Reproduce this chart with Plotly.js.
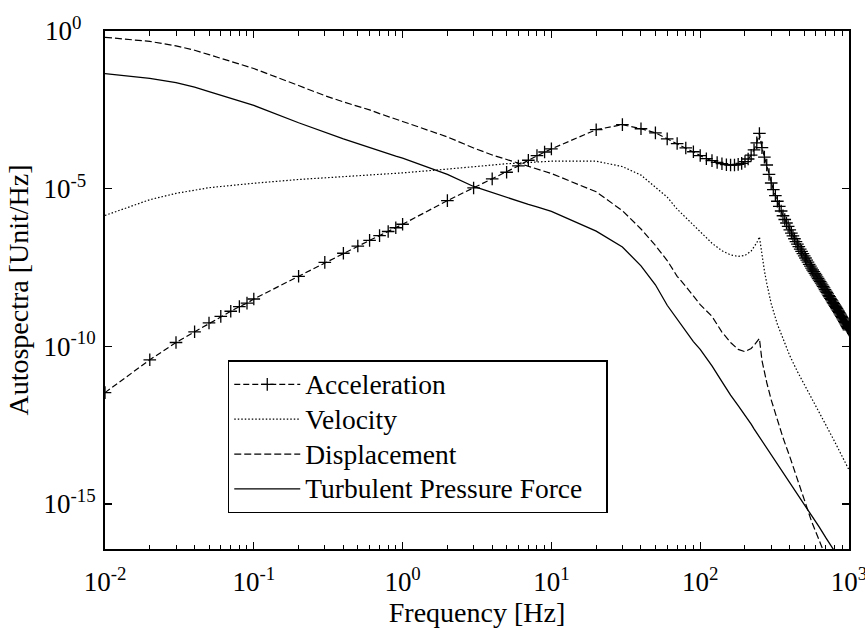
<!DOCTYPE html>
<html><head><meta charset="utf-8">
<script src="https://cdn.plot.ly/plotly-3.0.1.min.js"></script>
<style>html,body{margin:0;padding:0;background:#fff}</style>
</head><body>
<div id="chart" style="width:865px;height:630px"></div>
<script>
// ---- data ----
const freqAccel = [0.01,0.02,0.03,0.04,0.05,0.06,0.07,0.08,0.09,0.1,
  0.2,0.3,0.4,0.5,0.6,0.7,0.8,0.9,1,
  2,3,4,5,6,7,8,9,10,
  20,30,40,50,60,70,80,90,100,
  110,120,130,140,150,160,170,180,190,200,
  210,220,230,240,250,260,270,280,290,300,
  310,320,330,340,350,360,370,380,390,400,
  410,420,430,440,450,460,470,480,490,500,
  510,520,530,540,550,560,570,580,590,600,
  610,620,630,640,650,660,670,680,690,700,
  710,720,730,740,750,760,770,780,790,800,
  810,820,830,840,850,860,870,880,890,900,
  910,920,930,940,950,960,970,980,990,1000];
const acceleration = [3.39e-12,3.72e-11,1.32e-10,2.88e-10,5.50e-10,8.91e-10,1.29e-9,1.82e-9,2.34e-9,3.16e-9,
  1.66e-8,4.57e-8,8.91e-8,1.51e-7,2.29e-7,3.24e-7,4.37e-7,5.75e-7,7.41e-7,
  4.17e-6,1.05e-5,2.04e-5,3.31e-5,5.25e-5,7.94e-5,1.12e-4,1.45e-4,1.82e-4,
  7.41e-4,1.07e-3,7.94e-4,5.89e-4,3.80e-4,2.69e-4,1.95e-4,1.48e-4,1.12e-4,
  8.91e-5,7.76e-5,6.76e-5,6.17e-5,5.75e-5,5.62e-5,5.62e-5,5.89e-5,6.31e-5,7.24e-5,
  8.71e-5,1.15e-4,1.70e-4,2.82e-4,5.62e-4,2.00e-4,1.00e-4,5.62e-5,2.82e-5,1.51e-5,
  9.33e-6,6.03e-6,3.98e-6,2.75e-6,1.95e-6,1.38e-6,1.05e-6,8.13e-7,6.31e-7,4.90e-7,
  3.89e-7,3.16e-7,2.57e-7,2.09e-7,1.74e-7,1.45e-7,1.20e-7,1.02e-7,8.71e-8,7.41e-8,
  6.31e-8,5.37e-8,4.68e-8,3.98e-8,3.47e-8,3.02e-8,2.63e-8,2.34e-8,2.04e-8,1.82e-8,
  1.58e-8,1.41e-8,1.26e-8,1.12e-8,1.00e-8,8.91e-9,7.94e-9,7.08e-9,6.31e-9,5.62e-9,
  5.13e-9,4.57e-9,4.07e-9,3.72e-9,3.31e-9,3.02e-9,2.75e-9,2.45e-9,2.24e-9,2.04e-9,
  1.86e-9,1.70e-9,1.55e-9,1.41e-9,1.29e-9,1.17e-9,1.07e-9,9.77e-10,8.91e-10,8.13e-10,
  7.41e-10,6.76e-10,6.17e-10,5.62e-10,5.13e-10,4.68e-10,4.27e-10,3.89e-10,3.63e-10,3.31e-10];

const freqLine = [0.01,0.02,0.03,0.04,0.05,0.06,0.07,0.08,0.09,0.1,
  0.2,0.3,0.4,0.5,0.6,0.7,0.8,0.9,1,
  2,3,4,5,6,7,8,9,10,
  20,30,40,50,60,70,80,90,100,
  120,140,160,180,200,220,230,240,250,260,270,280,300,330,360,400,450,500,560,630,700,800,900,1000];
const velocity = [1.41e-6,4.47e-6,7.08e-6,9.12e-6,1.07e-5,1.17e-5,1.26e-5,1.35e-5,1.41e-5,1.48e-5,
  1.95e-5,2.19e-5,2.40e-5,2.51e-5,2.63e-5,2.75e-5,2.88e-5,3.02e-5,3.16e-5,
  4.17e-5,5.01e-5,5.62e-5,6.17e-5,6.46e-5,6.76e-5,7.08e-5,7.24e-5,7.41e-5,
  7.41e-5,5.01e-5,2.69e-5,1.12e-5,5.37e-6,2.24e-6,1.20e-6,6.92e-7,4.17e-7,
  1.86e-7,1.07e-7,7.94e-8,7.08e-8,7.59e-8,1.05e-7,1.38e-7,1.91e-7,2.95e-7,7.08e-8,2.51e-8,1.00e-8,
  2.24e-9,5.01e-10,1.66e-10,5.01e-11,1.58e-11,6.31e-12,2.40e-12,8.32e-13,3.16e-13,9.55e-14,3.31e-14,1.20e-14];
const displacement = [6.31e-1,4.68e-1,3.39e-1,2.45e-1,1.78e-1,1.38e-1,1.10e-1,9.12e-2,7.59e-2,6.46e-2,
  1.86e-2,8.91e-3,5.62e-3,4.17e-3,3.16e-3,2.40e-3,1.91e-3,1.58e-3,1.35e-3,
  4.37e-4,1.95e-4,1.17e-4,8.32e-5,6.31e-5,5.13e-5,4.27e-5,3.55e-5,3.02e-5,
  7.94e-6,2.00e-6,5.25e-7,1.58e-7,5.25e-8,1.66e-8,7.94e-9,3.80e-9,2.09e-9,
  8.91e-10,2.82e-10,1.32e-10,7.94e-11,6.76e-11,8.51e-11,1.07e-10,1.38e-10,1.78e-10,3.55e-11,1.41e-11,7.08e-12,
  2.00e-12,4.47e-13,1.26e-13,3.16e-14,6.31e-15,1.41e-15,2.82e-16,7.08e-17,2.00e-17,null,null,null];
const turbulentForce = [4.47e-2,3.16e-2,2.29e-2,1.66e-2,1.20e-2,9.33e-3,7.41e-3,6.17e-3,5.13e-3,4.37e-3,
  1.23e-3,6.03e-4,3.80e-4,2.69e-4,2.00e-4,1.58e-4,1.29e-4,1.07e-4,9.33e-5,
  2.82e-5,1.17e-5,7.41e-6,5.25e-6,3.98e-6,3.16e-6,2.63e-6,2.24e-6,1.91e-6,
  4.47e-7,1.41e-7,3.55e-8,8.91e-9,2.00e-9,7.08e-10,3.16e-10,1.41e-10,7.94e-11,
  2.40e-11,7.59e-12,2.82e-12,1.32e-12,6.61e-13,3.39e-13,2.40e-13,1.78e-13,1.32e-13,1.00e-13,7.59e-14,6.03e-14,
  3.72e-14,1.91e-14,1.00e-14,4.79e-15,2.09e-15,1.00e-15,4.47e-16,1.86e-16,8.32e-17,3.16e-17,null,null];

const seriesNames = ['Acceleration','Velocity','Displacement','Turbulent Pressure Force'];
const xTickVals = [0.01,0.1,1,10,100,1000];
const xTickText = ['10<sup>-2</sup>','10<sup>-1</sup>','10<sup>0</sup>','10<sup>1</sup>','10<sup>2</sup>','10<sup>3</sup>'];
const yTickVals = [1,1e-5,1e-10,1e-15];
// figure/punctuation spaces keep the "10" bases aligned as in the reference
const yTickText = ['10<sup>0\u2007\u2008</sup>','10<sup>-5\u2007</sup>','10<sup>-10</sup>','10<sup>-15</sup>'];
const xTitle = 'Frequency [Hz]';
const yTitle = 'Autospectra [Unit/Hz]';

// ---- presentation ----
const FONT = 'Liberation Serif, "Times New Roman", Times, serif';
const legendName = s => '<span style="font-size:27.5px">' + s + '</span>';
const minorX = [];
for (let d = -2; d < 3; d++) for (let k = 2; k <= 9; k++) minorX.push(k * Math.pow(10, d));

const traces = [
  {x: freqAccel, y: acceleration, name: legendName(seriesNames[0]), type: 'scatter', mode: 'lines+markers',
   line: {color: '#000', width: 1.2, dash: '6px,3px'},
   marker: {symbol: 'cross-thin-open', size: 9, color: '#000', line: {color: '#000', width: 1.3}}},
  {x: freqLine, y: velocity, name: legendName(seriesNames[1]), type: 'scatter', mode: 'lines',
   line: {color: '#000', width: 1.2, dash: '1.5px,2px'}},
  {x: freqLine, y: displacement, name: legendName(seriesNames[2]), type: 'scatter', mode: 'lines',
   line: {color: '#000', width: 1.2, dash: '7px,3px'}},
  {x: freqLine, y: turbulentForce, name: legendName(seriesNames[3]), type: 'scatter', mode: 'lines',
   line: {color: '#000', width: 1.3}}
];

const axisCommon = {
  type: 'log', showgrid: false, zeroline: false, showline: true, linecolor: '#000', linewidth: 2,
  mirror: 'ticks', ticks: 'inside', tickcolor: '#000', tickwidth: 1.2, ticklen: 7,
  tickfont: {family: FONT, size: 27, color: '#000'}, automargin: false, tickmode: 'array'
};

const layout = {
  width: 865, height: 630,
  margin: {l: 105, r: 16, t: 31, b: 81, pad: 0},
  paper_bgcolor: '#fff', plot_bgcolor: '#fff',
  font: {family: FONT, color: '#000', size: 27},
  showlegend: true,
  xaxis: Object.assign({}, axisCommon, {
    range: [-2, 3], tickvals: xTickVals, ticktext: xTickText, ticklabelstandoff: 8,
    ticklabeloverflow: 'allow',
    minor: {tickmode: 'array', tickvals: minorX, ticks: 'inside', ticklen: 4.5, tickwidth: 1, tickcolor: '#000', showgrid: false},
    title: {text: xTitle, font: {family: FONT, size: 28, color: '#000'}, standoff: 5}
  }),
  yaxis: Object.assign({}, axisCommon, {
    range: [-16.43, 0], tickvals: yTickVals, ticktext: yTickText, ticklabelstandoff: 2,
    title: {text: yTitle, font: {family: FONT, size: 28, color: '#000'}, standoff: 7}
  }),
  legend: {
    x: 0.165, y: 0.364, xanchor: 'left', yanchor: 'top',
    orientation: 'h', entrywidth: 296, entrywidthmode: 'pixels',
    bgcolor: '#fff', bordercolor: '#000', borderwidth: 1.5,
    font: {family: FONT, size: 24.5, color: '#000'},
    itemwidth: 66, tracegroupgap: 0, traceorder: 'normal'
  }
};

Plotly.newPlot('chart', traces, layout, {displayModeBar: false, staticPlot: true});
</script>
</body></html>
